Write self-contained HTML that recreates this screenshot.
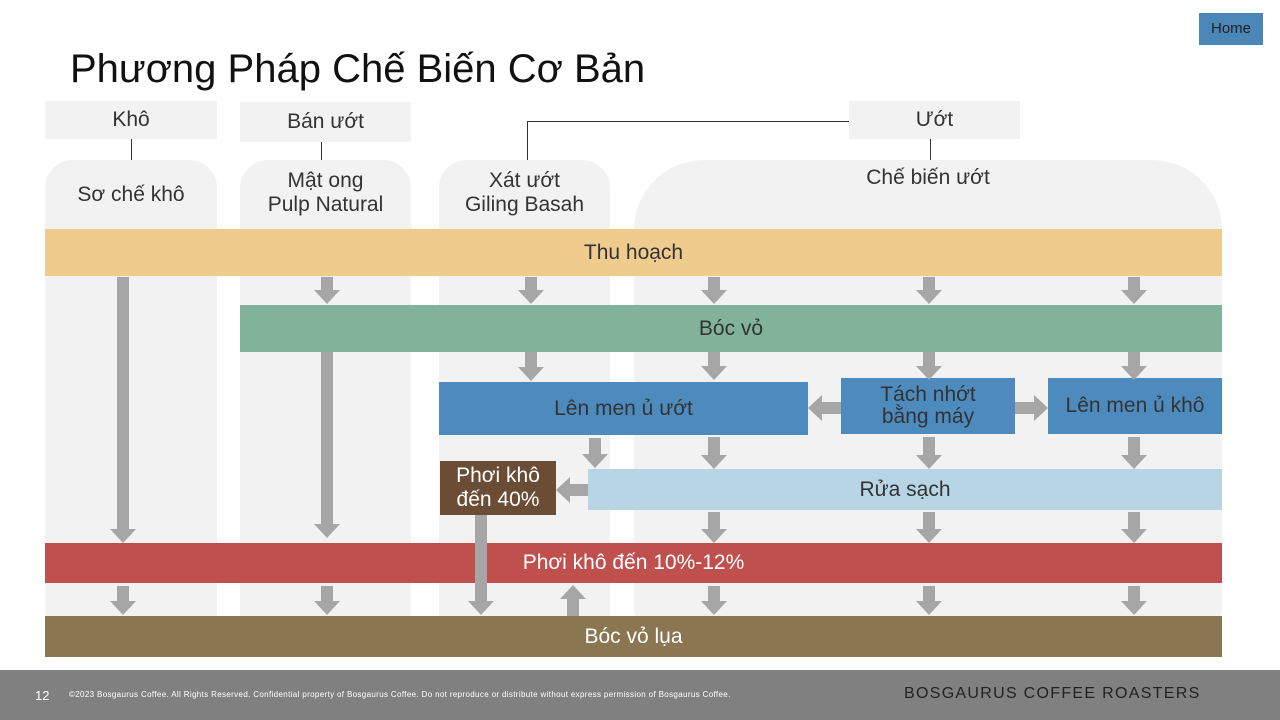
<!DOCTYPE html><html><head><meta charset="utf-8"><style>
body{margin:0;width:1280px;height:720px;position:relative;background:#fff;font-family:"Liberation Sans",sans-serif;overflow:hidden}
.a{position:absolute;box-sizing:border-box;display:flex;align-items:center;justify-content:center;text-align:center;color:#333;font-size:21px;line-height:24px}
.w{color:#fff}
</style></head><body>
<div class="a" style="left:1199px;top:13px;width:64px;height:32px;background:#4a86b8;font-size:15px;color:#222">Home</div>
<div style="position:absolute;left:70px;top:47px;font-size:40px;color:#111">Phương Pháp Chế Biến Cơ Bản</div>
<div style="position:absolute;left:45px;top:160px;width:172px;height:497px;background:#f2f2f2;border-radius:28px 28px 0 0"></div>
<div style="position:absolute;left:240px;top:160px;width:171px;height:497px;background:#f2f2f2;border-radius:28px 28px 0 0"></div>
<div style="position:absolute;left:439px;top:160px;width:171px;height:497px;background:#f2f2f2;border-radius:28px 28px 0 0"></div>
<div style="position:absolute;left:634px;top:160px;width:588px;height:497px;background:#f2f2f2;border-radius:70px 70px 50px 50px"></div>
<div class="a" style="left:45px;top:101px;width:172px;height:38px;background:#f2f2f2">Khô</div>
<div class="a" style="left:240px;top:102px;width:171px;height:40px;background:#f2f2f2">Bán ướt</div>
<div class="a" style="left:849px;top:101px;width:171px;height:38px;background:#f2f2f2">Ướt</div>
<div class="a" style="left:45px;top:175px;width:172px;height:40px">Sơ chế khô</div>
<div class="a" style="left:240px;top:163px;width:171px;height:60px">Mật ong<br>Pulp Natural</div>
<div class="a" style="left:439px;top:163px;width:171px;height:60px">Xát ướt<br>Giling Basah</div>
<div class="a" style="left:634px;top:164px;width:588px;height:28px">Chế biến ướt</div>
<div class="a" style="left:45px;top:229px;width:1177px;height:47px;background:#f0cb8e">Thu hoạch</div>
<div class="a" style="left:240px;top:305px;width:982px;height:47px;background:#81b29a">Bóc vỏ</div>
<div class="a" style="left:439px;top:382px;width:369px;height:53px;background:#4d8bbf">Lên men ủ ướt</div>
<div class="a" style="left:841px;top:378px;width:174px;height:56px;background:#4d8bbf;line-height:22px">Tách nhớt<br>bằng máy</div>
<div class="a" style="left:1048px;top:378px;width:174px;height:56px;background:#4d8bbf">Lên men ủ khô</div>
<div class="a" style="left:588px;top:469px;width:634px;height:41px;background:#b8d5e6">Rửa sạch</div>
<div class="a w" style="left:440px;top:461px;width:116px;height:54px;background:#6b4c35">Phơi khô<br>đến 40%</div>
<div class="a w" style="left:45px;top:543px;width:1177px;height:40px;background:#c0504d">Phơi khô đến 10%-12%</div>
<div class="a w" style="left:45px;top:616px;width:1177px;height:41px;background:#8a7650">Bóc vỏ lụa</div>
<svg style="position:absolute;left:0;top:0" width="1280" height="670">
<g stroke="#333" stroke-width="1" fill="none"><path d="M131.5 139V160M321.5 142V160M930.5 139V160M849 121.5H527.5V160"/></g>
<g fill="#a6a6a6" id="ar"></g>
</svg>
<div style="position:absolute;left:0;top:670px;width:1280px;height:50px;background:#808080"></div>
<div style="position:absolute;left:35px;top:688px;font-size:13px;color:#fff">12</div>
<div style="position:absolute;left:69px;top:690px;font-size:8px;letter-spacing:0.35px;color:#fff">©2023 Bosgaurus Coffee. All Rights Reserved. Confidential property of Bosgaurus Coffee. Do not reproduce or distribute without express permission of Bosgaurus Coffee.</div>
<div style="position:absolute;left:904px;top:685px;font-size:16px;letter-spacing:1.3px;color:#222">BOSGAURUS COFFEE ROASTERS</div>
<script>
var g=document.getElementById('ar'),s='';
function d(x,y1,y2){var h=y2-14;s+=`<polygon points="${x-6},${y1} ${x+6},${y1} ${x+6},${h} ${x+13},${h} ${x},${y2} ${x-13},${h} ${x-6},${h}"/>`}
function u(x,y1,y2){var h=y2+14;s+=`<polygon points="${x-6},${y1} ${x+6},${y1} ${x+6},${h} ${x+13},${h} ${x},${y2} ${x-13},${h} ${x-6},${h}"/>`}
function l(y,x1,x2){var h=x2+14;s+=`<polygon points="${x1},${y-6} ${x1},${y+6} ${h},${y+6} ${h},${y+13} ${x2},${y} ${h},${y-13} ${h},${y-6}"/>`}
function r(y,x1,x2){var h=x2-14;s+=`<polygon points="${x1},${y-6} ${x1},${y+6} ${h},${y+6} ${h},${y+13} ${x2},${y} ${h},${y-13} ${h},${y-6}"/>`}
d(123,277,543);d(123,586,615);
d(327,277,304);d(327,352,538);d(327,586,615);
d(531,277,304);d(531,352,381);
[714,929,1134].forEach(x=>{d(x,277,304);d(x,352,380);d(x,437,469);d(x,512,543);d(x,586,615)});
d(595,438,468);d(481,515,615);u(573,616,585);
l(408,841,808);r(408,1015,1048);l(490,588,556);
g.innerHTML=s;
</script>
</body></html>
